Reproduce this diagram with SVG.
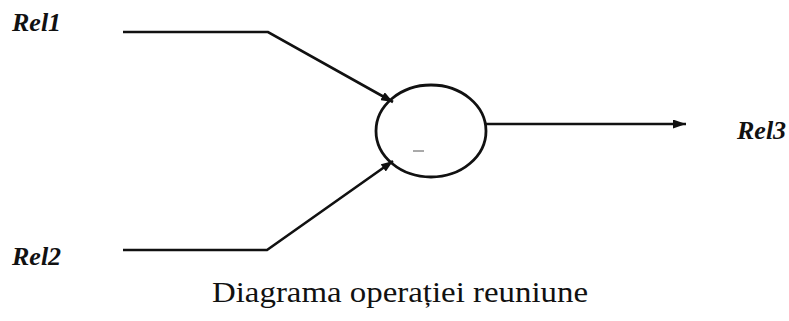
<svg xmlns="http://www.w3.org/2000/svg" width="789" height="321" viewBox="0 0 789 321">
<style>
.lbl{font-family:"Liberation Serif","Times New Roman",serif;font-weight:bold;font-style:italic;font-size:26px;fill:#111}
.cap{font-family:"Liberation Serif","Times New Roman",serif;font-size:29px;fill:#111}
.ln{fill:none;stroke:#111;stroke-width:2.6;stroke-linejoin:miter}
</style>
<defs>
<marker id="ah" viewBox="0 0 12 9" refX="12" refY="4.5" markerWidth="12" markerHeight="9" markerUnits="userSpaceOnUse" orient="auto">
<path d="M0,0 L12,4.5 L0,9 Z" fill="#111"/>
</marker>
<marker id="ah2" viewBox="0 0 13 9" refX="13" refY="4.5" markerWidth="13" markerHeight="9" markerUnits="userSpaceOnUse" orient="auto">
<path d="M0,0 L13,4.5 L0,9 Z" fill="#111"/>
</marker>
</defs>
<rect width="789" height="321" fill="#fff"/>
<g id="connectors">
<path class="ln" d="M123,32 L268,32 L393,102" marker-end="url(#ah)"/>
<path class="ln" d="M123,250 L267,250 L393,161" marker-end="url(#ah)"/>
<path class="ln" d="M486,124 L686,124" marker-end="url(#ah2)"/>
</g>
<g id="op">
<ellipse cx="431" cy="131" rx="55" ry="46" fill="none" stroke="#111" stroke-width="2.8"/>
<line x1="413" y1="151" x2="424" y2="151" stroke="#555" stroke-width="1"/>
</g>
<g id="rel1"><text class="lbl" x="12" y="31">Rel1</text></g>
<g id="rel2"><text class="lbl" x="12" y="265">Rel2</text></g>
<g id="rel3"><text class="lbl" x="737" y="139">Rel3</text></g>
<g id="caption"><text class="cap" x="212" y="302" textLength="376" lengthAdjust="spacingAndGlyphs">Diagrama operației reuniune</text></g>
</svg>
